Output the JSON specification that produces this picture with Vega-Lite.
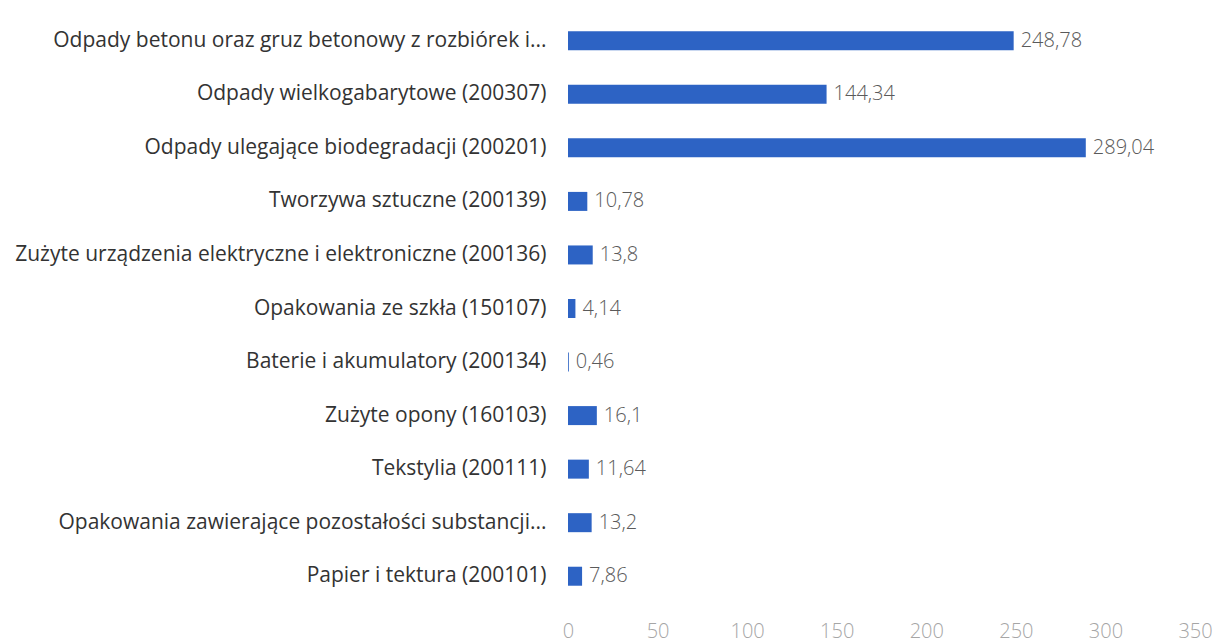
{
  "$schema": "https://vega.github.io/schema/vega-lite/v6.json",
  "autosize": "none",
  "width": 627,
  "height": 589,
  "padding": {"left": 568, "top": 14, "right": 27, "bottom": 39},
  "background": "white",
  "config": {
    "view": {"stroke": null},
    "locale": {"number": {"decimal": ",", "thousands": " ", "grouping": [3], "currency": ["", " zł"]}},
    "font": "Open Sans"
  },
  "data": {"values": [
    {"kategoria": "Odpady betonu oraz gruz betonowy z rozbiórek i...", "wartosc": 248.78},
    {"kategoria": "Odpady wielkogabarytowe (200307)", "wartosc": 144.34},
    {"kategoria": "Odpady ulegające biodegradacji (200201)", "wartosc": 289.04},
    {"kategoria": "Tworzywa sztuczne (200139)", "wartosc": 10.78},
    {"kategoria": "Zużyte urządzenia elektryczne i elektroniczne (200136)", "wartosc": 13.8},
    {"kategoria": "Opakowania ze szkła (150107)", "wartosc": 4.14},
    {"kategoria": "Baterie i akumulatory (200134)", "wartosc": 0.46},
    {"kategoria": "Zużyte opony (160103)", "wartosc": 16.1},
    {"kategoria": "Tekstylia (200111)", "wartosc": 11.64},
    {"kategoria": "Opakowania zawierające pozostałości substancji...", "wartosc": 13.2},
    {"kategoria": "Papier i tektura (200101)", "wartosc": 7.86}
  ]},
  "encoding": {
    "y": {
      "field": "kategoria", "type": "nominal", "sort": null,
      "scale": {"paddingInner": 0.64, "paddingOuter": 0.32},
      "axis": {"title": null, "domain": false, "ticks": false, "labelPadding": 22, "labelLimit": 600, "labelFontSize": 21, "labelColor": "#333333", "labelFont": "Open Sans"}
    },
    "x": {
      "field": "wartosc", "type": "quantitative",
      "scale": {"domain": [0, 350], "nice": false},
      "axis": {"title": null, "values": [0, 50, 100, 150, 200, 250, 300, 350], "grid": false, "domain": false, "ticks": false, "labelPadding": 18, "labelFontSize": 20, "labelColor": "#a6a6a6", "labelFont": "Open Sans", "labelFontWeight": 300, "labelFlush": false}
    }
  },
  "layer": [
    {"mark": {"type": "bar", "color": "#2d63c4", "size": 19}},
    {"mark": {"type": "text", "align": "left", "baseline": "middle", "dx": 7, "fontSize": 20, "color": "#5a5a5a", "font": "Open Sans", "fontWeight": 300},
     "encoding": {"text": {"field": "wartosc", "type": "quantitative", "format": ".2~f"}}}
  ]
}
